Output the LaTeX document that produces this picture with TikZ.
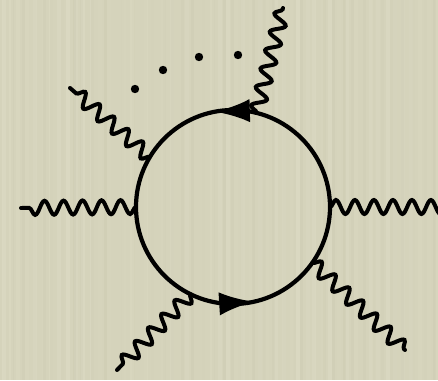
\documentclass[tikz,border=0pt]{standalone}
\usetikzlibrary{arrows.meta, positioning, calc, decorations.pathmorphing, decorations.markings}
\definecolor{paper}{RGB}{213,211,187}
\definecolor{paperlight}{RGB}{226,224,202}
\definecolor{paperdark}{RGB}{200,198,173}

\begin{document}
\begin{tikzpicture}[x=0.03cm, y=0.03cm,
  photon/.style={line width=3.4pt, line cap=round, decorate,
    decoration={snake, segment length=0.57cm, amplitude=0.21cm}},
  fermion/.style={line width=3.6pt, postaction={decorate},
    decoration={markings,
      mark=at position 0.28 with {\pgftransformrotate{-9}\arrow{Latex[length=1.05cm,width=0.7cm]}},
      mark=at position 0.785 with {\pgftransformrotate{-9}\arrow{Latex[length=1.05cm,width=0.7cm]}}}}]
  % paper background
  \clip (0,0) rectangle (438,380);
  \fill[paper] (0,0) rectangle (438,380);
  \pgfmathsetseed{11}
  \foreach \i in {0,...,54} {
    \pgfmathsetmacro\xx{8*\i+3*rnd}
    \pgfmathsetmacro\oo{0.45*rnd}
    \fill[paperlight, opacity=\oo] (\xx,0) rectangle (\xx+4,380);
  }
  \foreach \i in {0,...,43} {
    \pgfmathsetmacro\xx{10*\i+4*rnd}
    \pgfmathsetmacro\oo{0.3*rnd}
    \fill[paperdark, opacity=\oo] (\xx,0) rectangle (\xx+3,380);
  }
  % loop
  \coordinate (c) at (233,173);
  \coordinate (vR) at ($(c)+(0:97)$);
  \coordinate (vUR) at ($(c)+(76:97)$);
  \coordinate (vUL) at ($(c)+(149:97)$);
  \coordinate (vL) at ($(c)+(180:97)$);
  \coordinate (vLL) at ($(c)+(244:97)$);
  \coordinate (vLR) at ($(c)+(325:97)$);
  \draw[fermion] (vR) arc[start angle=0, end angle=360, radius=97];
  % external photons
  \coordinate (eR) at (450,173);
  \coordinate (eUR) at (283,372);
  \coordinate (eUL) at (70,292);
  \coordinate (eL) at (21,172);
  \coordinate (eLL) at (117,10);
  \coordinate (eLR) at (405,30);
  \draw[photon] (vL) -- (eL);
  \draw[photon] (vR) -- (eR);
  \draw[photon] (vUR) -- (eUR);
  \draw[photon] (vUL) -- (eUL);
  \draw[photon] (vLL) -- (eLL);
  \draw[photon] (vLR) -- (eLR);
  % dots
  \foreach \p in {(135,291),(163,310),(199,323),(238,325)}
    \fill \p circle[radius=4.2];
\end{tikzpicture}
\end{document}
